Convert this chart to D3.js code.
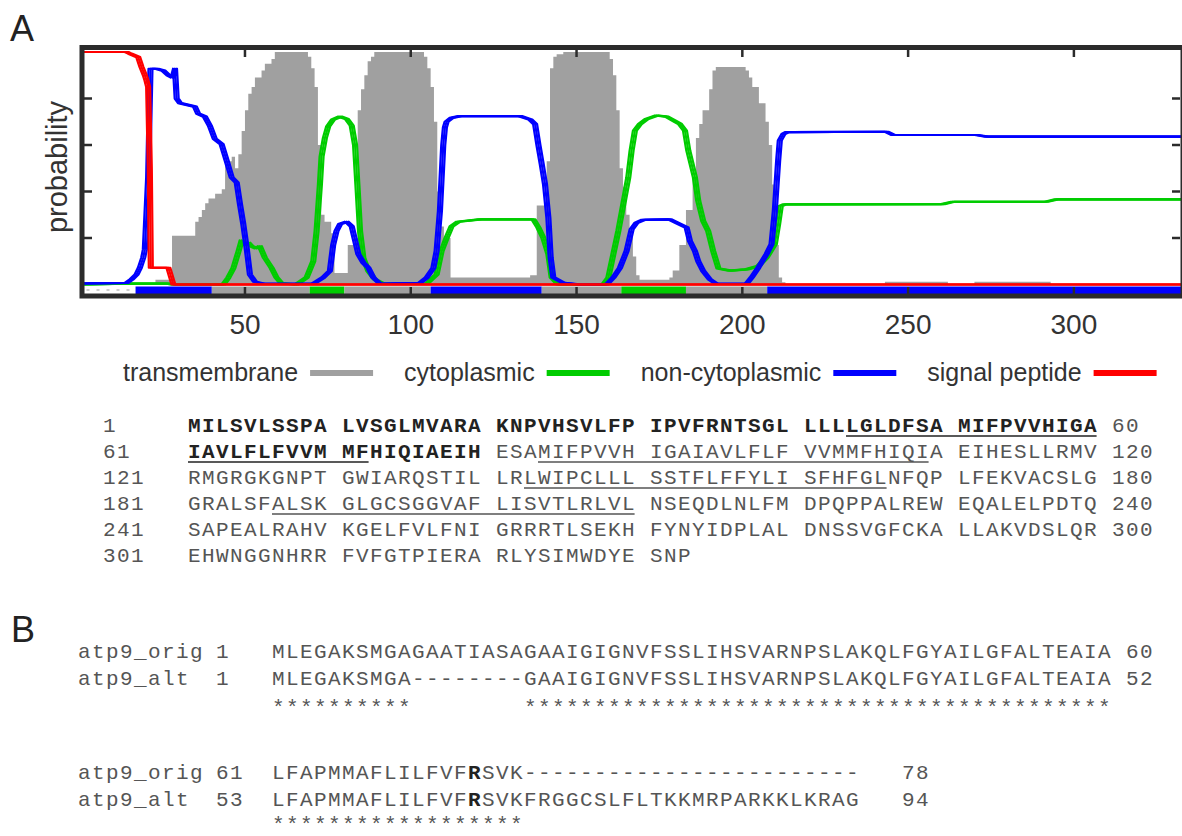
<!DOCTYPE html>
<html>
<head>
<meta charset="utf-8">
<script src="https://cdn.jsdelivr.net/npm/d3@7"></script>
<style>
body { margin: 0; background: #fff; }
</style>
</head>
<body>
<div id="fig"></div>
<script>
// ---- panel A: per residue probabilities as [residue, probability] knots
var transmembrane = [
  [1,0],[23,0.02],[28,0.21],[35,0.27],[36,0.29],[37,0.32],[38,0.35],[39,0.37],[41,0.39],[43,0.41],
  [44,0.52],[45,0.53],[46,0.55],[47,0.5],[48,0.56],[49,0.66],[50,0.75],[51,0.82],[52,0.85],[53,0.89],
  [55,0.92],[56,0.95],[58,0.97],[59,1.0],[69,0.98],[70,0.93],[71,0.85],[72,0.6],[73,0.3],[74,0.27],
  [76,0.22],[77,0.05],[81,0.17],[83,0.2],[84,0.75],[85,0.84],[86,0.9],[87,0.96],[88,0.98],[89,1.0],
  [104,0.98],[105,0.93],[106,0.85],[107,0.7],[108,0.4],[109,0.25],[110,0.2],[112,0.03],[136,0.04],
  [138,0.34],[141,0.53],[142,0.93],[143,0.98],[144,0.99],[146,1.0],[160,0.97],[161,0.9],[162,0.75],
  [163,0.5],[164,0.42],[165,0.3],[166,0.23],[167,0.12],[168,0.04],[169,0.02],[178,0.03],[179,0.06],
  [181,0.17],[183,0.32],[185,0.45],[186,0.63],[187,0.69],[188,0.75],[190,0.84],[191,0.92],[192,0.935],
  [201,0.92],[202,0.89],[203,0.85],[205,0.78],[207,0.7],[208,0.6],[209,0.43],[210,0.17],[211,0.03],
  [212,0.01],[213,0],[243,0.012],[262,0],[270,0.012],[293,0],[333,0]
];
var cytoplasmic = [
  [1,0],[15,0.004],[27,0.004],[28,0],[43.5,0],[45,0.03],[46.5,0.07],[48,0.14],[49,0.19],[50,0.17],
  [51,0.18],[52,0.165],[53.5,0.155],[54.5,0.165],[56,0.115],[58,0.072],[59.5,0.03],[61,0.005],[65.5,0],
  [68.6,0.03],[70.6,0.1],[71.6,0.23],[72.6,0.43],[73.1,0.55],[74.1,0.63],[75.1,0.68],[76.6,0.71],
  [78.7,0.722],[80.7,0.712],[82.2,0.683],[83.2,0.6],[83.9,0.43],[84.7,0.23],[85.7,0.115],[87.2,0.058],
  [89.2,0.022],[91.7,0.003],[104.8,0.003],[107.8,0.043],[109.3,0.144],[110.8,0.2],[112.3,0.25],
  [114.3,0.27],[120.9,0.28],[137,0.28],[138.5,0.245],[140,0.2],[141.5,0.13],[142.5,0.03],[144.5,0],
  [158.1,0],[159.6,0.03],[161.1,0.13],[162.6,0.23],[164.1,0.345],[165.6,0.46],[166.6,0.576],
  [167.6,0.662],[169.1,0.69],[171.2,0.712],[174.2,0.727],[177.2,0.722],[179.7,0.702],[181.2,0.69],
  [182.7,0.662],[183.7,0.576],[184.7,0.518],[185.7,0.46],[186.7,0.36],[188.2,0.273],[189.7,0.23],
  [191.2,0.144],[192.8,0.069],[196.3,0.06],[201.3,0.065],[204.8,0.079],[207.3,0.115],[209.8,0.173],
  [210.8,0.26],[211.6,0.338],[212.8,0.345],[260.5,0.346],[263.5,0.356],[291.7,0.356],[294.7,0.366],
  [333,0.366]
];
var nonCytoplasmic = [
  [1,0.005],[14.3,0.007],[15.8,0.022],[17.3,0.043],[18.3,0.072],[19.3,0.115],[19.8,0.15],[20.8,0.46],
  [21.5,0.928],[23.4,0.928],[25.4,0.92],[26.9,0.9],[28.2,0.89],[28.9,0.928],[29.4,0.8],[30.4,0.78],
  [34.9,0.765],[35.9,0.734],[37.9,0.722],[39.4,0.683],[40.9,0.626],[42.95,0.604],[44.5,0.532],[46,0.46],
  [47.5,0.439],[48.5,0.345],[49.5,0.259],[50.5,0.158],[51.5,0.043],[53,0.012],[55.5,0.003],[70.6,0.003],
  [73.6,0.03],[75.6,0.058],[76.6,0.17],[77.6,0.23],[78.7,0.26],[80.7,0.27],[82.2,0.25],[83.2,0.19],
  [84.2,0.13],[85.7,0.094],[87.2,0.072],[88.7,0.03],[90.7,0.003],[102.8,0.007],[104.8,0.03],[106.8,0.07],
  [107.8,0.144],[108.8,0.317],[109.8,0.6],[110.3,0.676],[110.8,0.7],[112.3,0.717],[114.8,0.724],
  [133,0.724],[136,0.71],[137.5,0.69],[138.5,0.6],[139.5,0.518],[140.5,0.43],[141.5,0.288],[142.2,0.115],
  [143,0.03],[146,0.007],[151,0],[159.1,0],[161.1,0.03],[163.1,0.072],[165.1,0.144],[166.6,0.237],
  [168.1,0.266],[170.1,0.278],[178.2,0.28],[180.2,0.266],[183.2,0.245],[184.2,0.187],[185.7,0.144],
  [186.7,0.1],[188.2,0.058],[190.2,0.022],[192.2,0.003],[201.3,0.003],[202.8,0.03],[204.8,0.072],
  [207.3,0.13],[208.8,0.173],[209.8,0.317],[210.8,0.532],[211.3,0.619],[212.4,0.647],[213.4,0.655],
  [243.5,0.657],[245.5,0.643],[270.7,0.643],[273.7,0.636],[333,0.636]
];
var signalPeptide = [
  [1,1],[14.3,1],[15.3,0.993],[17.8,0.978],[18.8,0.935],[19.8,0.9],[20.3,0.878],[20.8,0.849],
  [21.3,0.5],[21.6,0.072],[26.9,0.072],[28.4,0],[333,0]
];
// predicted topology along the bottom strip
var topology = [
  ["signal",1,17],["non",17,40],["tm",40,69.5],["cyto",69.5,80],["tm",80,106],
  ["non",106,139.5],["tm",139.5,163.5],["cyto",163.5,183],["tm",183,207.5],["non",207.5,333]
];
var xTicks = [50, 100, 150, 200, 250, 300];
var yTicks = [0.2, 0.4, 0.6, 0.8];
var legendNames = ["transmembrane", "cytoplasmic", "non-cytoplasmic", "signal peptide"];

// ---- panel A: sequence
var sequence =
  "MILSVLSSPALVSGLMVARAKNPVHSVLFPIPVFRNTSGLLLLLGLDFSAMIFPVVHIGA" +
  "IAVLFLFVVMMFHIQIAEIHESAMIFPVVHIGAIAVLFLFVVMMFHIQIAEIHESLLRMV" +
  "RMGRGKGNPTGWIARQSTILLRLWIPCLLLSSTFLFFYLISFHFGLNFQPLFEKVACSLG" +
  "GRALSFALSKGLGCSGGVAFLISVTLRLVLNSEQDLNLFMDPQPPALREWEQALELPDTQ" +
  "SAPEALRAHVKGELFVLFNIGRRRTLSEKHFYNYIDPLALDNSSVGFCKALLAKVDSLQR" +
  "EHWNGGNHRRFVFGTPIERARLYSIMWDYESNP";
var boldEnd = 80;
var underlined = [[44,72],[84,109],[143,166],[187,210]];

// ---- panel B: alignment
var alnNames = ["atp9_orig", "atp9_alt"];
var alnBlocks = [
  ["MLEGAKSMGAGAATIASAGAAIGIGNVFSSLIHSVARNPSLAKQLFGYAILGFALTEAIA",
   "MLEGAKSMGA--------GAAIGIGNVFSSLIHSVARNPSLAKQLFGYAILGFALTEAIA"],
  ["LFAPMMAFLILFVFRSVK------------------------",
   "LFAPMMAFLILFVFRSVKFRGGCSLFLTKKMRPARKKLKRAG"]
];
var alnStart = [[1, 1], [61, 53]];
var alnEnd = [[60, 52], [78, 94]];
var alnBoldCol = [null, 14];

var W = 1182, H = 836;
var frameColor = "#2b2b2b", labelColor = "#333";
var colors = {tm: "#a0a0a0", cyto: "#00cc00", non: "#0000ff", signal: "#ff0000"};
var sans = "'Liberation Sans', Arial, sans-serif", mono = "'Liberation Mono', 'Courier New', monospace";

var svg = d3.select("#fig").append("svg")
    .attr("width", W)
    .attr("height", H)
    .style("display", "block");

var x = d3.scaleLinear().domain([1, 332]).range([82.5, 1180]);
var y = d3.scaleLinear().domain([0, 1]).range([284.5, 52]);

svg.append("clipPath").attr("id", "plotclip")
  .append("rect").attr("x", 84).attr("y", 50).attr("width", 1097).attr("height", 244);

var plot = svg.append("g").attr("clip-path", "url(#plotclip)");

// transmembrane histogram
plot.append("path")
    .datum(transmembrane)
    .attr("fill", colors.tm)
    .attr("d", d3.area()
        .curve(d3.curveStepAfter)
        .x(function(d) { return x(d[0]); })
        .y0(y(0))
        .y1(function(d) { return y(d[1]); }));

// topology strip under the baseline
topology.forEach(function(t) {
    if (t[0] == "signal") {
        plot.append("line")
            .attr("x1", x(t[1]) + 4).attr("x2", x(t[2]) - 4)
            .attr("y1", 290).attr("y2", 290)
            .attr("stroke", "#999").attr("stroke-width", 1.2)
            .attr("stroke-dasharray", "3,7");
    } else {
        plot.append("rect")
            .attr("x", x(t[1])).attr("width", x(t[2]) - x(t[1]))
            .attr("y", 286.5).attr("height", 8)
            .attr("fill", colors[t[0]]);
    }
});

var line = d3.line()
    .x(function(d) { return x(d[0]); })
    .y(function(d) { return y(d[1]); });

// the original lines look drawn with a flat brush: thin when flat, wide when steep
function drawCurve(data, color) {
    [-2, 0, 2].forEach(function(dx) {
        plot.append("path")
            .attr("transform", "translate(" + dx + ",0)")
            .attr("d", line(data))
            .attr("fill", "none")
            .attr("stroke", color)
            .attr("stroke-width", 2.2)
            .attr("stroke-linejoin", "round");
    });
}
drawCurve(cytoplasmic, colors.cyto);
drawCurve(nonCytoplasmic, colors.non);
drawCurve(signalPeptide, colors.signal);

// frame and ticks
svg.append("rect")
    .attr("x", 82).attr("y", 47.5)
    .attr("width", 1101).attr("height", 248.5)
    .attr("fill", "none")
    .attr("stroke", frameColor)
    .attr("stroke-width", 5);

xTicks.forEach(function(t) {
    svg.append("line").attr("x1", x(t)).attr("x2", x(t)).attr("y1", 50).attr("y2", 57)
        .attr("stroke", frameColor).attr("stroke-width", 2.5);
    svg.append("line").attr("x1", x(t)).attr("x2", x(t)).attr("y1", 294).attr("y2", 287)
        .attr("stroke", frameColor).attr("stroke-width", 2.5);
    svg.append("text")
        .attr("x", x(t)).attr("y", 334)
        .attr("text-anchor", "middle")
        .attr("font-family", sans).attr("font-size", 28)
        .attr("fill", labelColor)
        .text(t);
});
yTicks.forEach(function(t) {
    svg.append("line").attr("x1", 84).attr("x2", 92).attr("y1", y(t)).attr("y2", y(t))
        .attr("stroke", frameColor).attr("stroke-width", 2.5);
    svg.append("line").attr("x1", 1180).attr("x2", 1172).attr("y1", y(t)).attr("y2", y(t))
        .attr("stroke", frameColor).attr("stroke-width", 2.5);
});

svg.append("text")
    .attr("transform", "translate(67,167) rotate(-90)")
    .attr("text-anchor", "middle")
    .attr("font-family", sans).attr("font-size", 29)
    .attr("fill", labelColor)
    .text("probability");

svg.append("text").attr("x", 10).attr("y", 41)
    .attr("font-family", sans).attr("font-size", 36).attr("fill", "#222").text("A");
svg.append("text").attr("x", 11).attr("y", 642)
    .attr("font-family", sans).attr("font-size", 36).attr("fill", "#222").text("B");

// legend
var legendColors = [colors.tm, colors.cyto, colors.non, colors.signal];
var lx = 123;
legendNames.forEach(function(name, i) {
    var t = svg.append("text")
        .attr("x", lx).attr("y", 381)
        .attr("font-family", sans).attr("font-size", 25)
        .attr("fill", labelColor)
        .text(name);
    lx += t.node().getComputedTextLength() + 12;
    svg.append("line")
        .attr("x1", lx).attr("x2", lx + 63)
        .attr("y1", 373).attr("y2", 373)
        .attr("stroke", legendColors[i]).attr("stroke-width", 6);
    lx += 63 + 31;
});

// sequence block
var charW = 14, seqX0 = 188, seqNumX = 103, seqTop = 432, seqRowH = 26;
var seqGray = "#555", seqDark = "#222";
var seqG = svg.append("g")
    .attr("font-family", mono).attr("font-size", 21)
    .attr("letter-spacing", 1.4);

function resX(res) {
    var c = (res - 1) % 60;
    return seqX0 + (c + Math.floor(c / 10)) * charW;
}

d3.range(Math.ceil(sequence.length / 60)).forEach(function(row) {
    var yb = seqTop + row * seqRowH;
    var start = row * 60 + 1;
    var rowSeq = sequence.slice(row * 60, row * 60 + 60);
    seqG.append("text").attr("x", seqNumX).attr("y", yb).attr("fill", seqGray).text(start);
    d3.range(Math.ceil(rowSeq.length / 10)).forEach(function(b) {
        var block = rowSeq.slice(b * 10, b * 10 + 10);
        var t = seqG.append("text").attr("x", seqX0 + b * 11 * charW).attr("y", yb);
        var runs = [];
        for (var k = 0; k < block.length; k++) {
            var bold = (start + b * 10 + k) <= boldEnd;
            if (runs.length && runs[runs.length - 1].bold === bold) runs[runs.length - 1].s += block[k];
            else runs.push({bold: bold, s: block[k]});
        }
        runs.forEach(function(r) {
            t.append("tspan")
                .attr("font-weight", r.bold ? "bold" : "normal")
                .attr("fill", r.bold ? seqDark : seqGray)
                .text(r.s);
        });
    });
    if (rowSeq.length == 60) {
        seqG.append("text").attr("x", seqX0 + 66 * charW).attr("y", yb)
            .attr("fill", seqGray).text(start + 59);
    }
});

underlined.forEach(function(rg) {
    var r0 = Math.floor((rg[0] - 1) / 60), r1 = Math.floor((rg[1] - 1) / 60);
    for (var row = r0; row <= r1; row++) {
        var a = Math.max(rg[0], row * 60 + 1), b = Math.min(rg[1], row * 60 + 60);
        var yb = seqTop + row * seqRowH + 4;
        svg.append("line")
            .attr("x1", resX(a)).attr("x2", resX(b) + charW - 1.4)
            .attr("y1", yb).attr("y2", yb)
            .attr("stroke", a <= boldEnd ? seqDark : seqGray)
            .attr("stroke-width", 1.4);
    }
});

// alignment
var alnLabelX = 78, alnNumX = 216, alnSeqX = 272;
var alnTops = [658, 779], alnRowH = 27;
var starBase = [714, 831];
var alnG = svg.append("g")
    .attr("font-family", mono).attr("font-size", 21)
    .attr("letter-spacing", 1.4)
    .attr("fill", seqGray);
var endGap = [1, 3];

alnBlocks.forEach(function(block, bi) {
    block.forEach(function(s, si) {
        var yb = alnTops[bi] + si * alnRowH;
        alnG.append("text").attr("x", alnLabelX).attr("y", yb).text(alnNames[si]);
        alnG.append("text").attr("x", alnNumX).attr("y", yb).text(alnStart[bi][si]);
        var t = alnG.append("text").attr("x", alnSeqX).attr("y", yb);
        var bc = alnBoldCol[bi];
        if (bc == null) {
            t.text(s);
        } else {
            t.append("tspan").text(s.slice(0, bc));
            t.append("tspan").attr("font-weight", "bold").attr("fill", seqDark).text(s.slice(bc, bc + 1));
            t.append("tspan").text(s.slice(bc + 1));
        }
        alnG.append("text")
            .attr("x", alnSeqX + (s.length + endGap[bi]) * charW).attr("y", yb)
            .text(alnEnd[bi][si]);
    });
    // conservation line: a star where both sequences agree
    var a = block[0], b = block[1], stars = "";
    for (var k = 0; k < a.length; k++) stars += (a[k] == b[k] && a[k] != "-") ? "*" : " ";
    alnG.append("text")
        .attr("x", alnSeqX).attr("y", starBase[bi])
        .attr("xml:space", "preserve")
        .style("white-space", "pre")
        .text(stars);
});
</script>
</body>
</html>
